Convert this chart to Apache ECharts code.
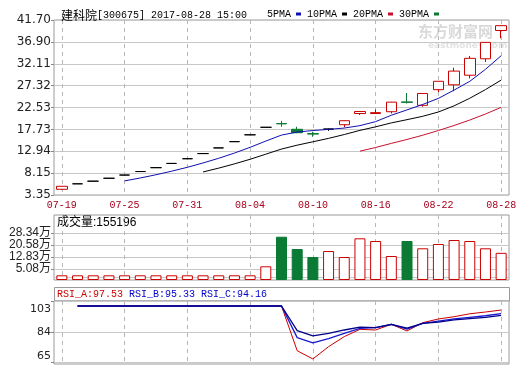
<!DOCTYPE html>
<html><head><meta charset="utf-8">
<script src="https://cdn.jsdelivr.net/npm/echarts@6/dist/echarts.min.js"></script>
<style>html,body{margin:0;padding:0;background:#fff}#c{width:520px;height:365px}</style>
</head><body><div id="c"></div>
<script>
// ---- data ----
const dates = ['07-19','07-20','07-21','07-24','07-25','07-26','07-27','07-28','07-31','08-01','08-02','08-03','08-04','08-07','08-08','08-09','08-10','08-11','08-14','08-15','08-16','08-17','08-18','08-21','08-22','08-23','08-24','08-25','08-28'];
const openP  = [4.60,5.80,6.38,7.02,7.72,8.49,9.34,10.27,11.30,12.43,13.67,15.04,16.54,18.19,19.00,17.75,16.80,17.80,18.75,21.20,21.20,21.60,23.75,23.00,26.43,27.50,29.60,33.20,39.40];
const closeP = [5.26,5.80,6.38,7.02,7.72,8.49,9.34,10.27,11.30,12.43,13.67,15.04,16.54,18.19,18.95,17.00,16.70,17.80,19.63,21.65,21.40,23.70,23.65,25.60,28.27,30.50,33.30,36.80,40.46];
const lowP   = [4.45,5.80,6.38,7.02,7.72,8.49,9.34,10.27,11.30,12.43,13.67,15.04,16.54,18.19,18.30,16.90,16.10,17.40,18.20,20.90,21.10,21.20,23.40,22.70,25.90,26.10,28.90,32.50,37.70];
const highP  = [5.27,5.80,6.38,7.02,7.72,8.49,9.34,10.27,11.30,12.43,13.67,15.04,16.54,18.19,19.60,18.30,17.20,17.90,19.70,21.70,22.10,23.75,25.70,25.70,28.30,31.25,33.80,36.85,40.50];
const ma5  = ['-','-','-','-',6.44,7.08,7.79,8.57,9.42,10.37,11.40,12.54,13.80,15.17,16.48,17.14,17.48,17.73,18.02,18.55,19.43,20.83,22.00,23.19,24.52,26.34,28.26,30.89,33.87];
const ma10 = ['-','-','-','-','-','-','-','-','-',8.40,9.24,10.17,11.18,12.30,13.42,14.27,15.01,15.76,16.60,17.51,18.29,19.15,19.86,20.60,21.54,22.89,24.55,26.45,28.53];
const ma20 = ['-','-','-','-','-','-','-','-','-','-','-','-','-','-','-','-','-','-','-',12.96,13.76,14.66,15.52,16.45,17.48,18.58,19.78,21.10,22.56];
const ma30 = [];
const volume = [1.0,1.0,1.0,1.0,1.0,1.0,1.0,1.0,1.0,1.0,1.0,1.0,1.0,6.82,25.94,18.0,12.83,16.7,12.83,24.9,23.16,13.47,23.16,18.45,21.23,23.81,23.16,18.45,15.52];
const rsiA = ['-',100,100,100,100,100,100,100,100,100,100,100,100,100,100,72.4,67.3,74.9,81.1,85.6,85.2,88.7,84.6,89.7,92.0,93.4,95.2,96.3,97.53];
const rsiB = ['-',100,100,100,100,100,100,100,100,100,100,100,100,100,100,80.5,77.2,79.8,83.1,86.2,86.6,88.7,85.8,89.3,90.7,92.0,93.0,94.0,95.33];
const rsiC = ['-',100,100,100,100,100,100,100,100,100,100,100,100,100,100,84.8,81.5,83.1,85.2,87.0,86.6,88.7,86.4,89.3,90.1,91.4,92.2,93.0,94.16];
const priceTickLabels = ['3.35','8.15','12.94','17.73','22.53','27.32','32.11','36.90','41.70'];
const volTickValues = [0,5.08,12.83,20.58,28.34];
const volTickLabels = ['0','5.08万','12.83万','20.58万','28.34万'];
const rsiTickValues = [65,84,103];
const rsiTickLabels = ['65','84','103'];
const titleName = '建科院';
const titleInfo = '[300675] 2017-08-28 15:00';
const volTitle = '成交量:155196';

// ---- style ----
const RED = '#cc0000', GREEN = '#0b7a34', GRIDC = '#c8c8c8', BORDER = '#9a9a9a';
const L = 54, W = 455;
const candleData = openP.map((o,i)=>[o, closeP[i], lowP[i], highP[i]]);
const volData = volume.map((v,i)=>{
  let up = closeP[i] > openP[i] || (closeP[i] === openP[i] && (i===0 || closeP[i] >= closeP[i-1]));
  return {value:v, itemStyle: up ? {color:'#ffffff', borderColor:RED, borderWidth:1} : {color:GREEN, borderColor:GREEN, borderWidth:1}};
});
function nearestLabel(vals, labs, v){let b=0;for(let i=1;i<vals.length;i++){if(Math.abs(vals[i]-v)<Math.abs(vals[b]-v))b=i;}return labs[b];}
const xBase = (gi, showLabel) => ({
  type:'category', gridIndex:gi, data:dates, boundaryGap:true,
  axisLine:{show:false}, axisTick:{show:false},
  axisLabel:{show:showLabel, interval:3, color:'#a8001c', fontFamily:'Liberation Mono', fontSize:10, margin:5},
  splitLine:{show:true, interval:3, alignWithLabel:true, lineStyle:{color:'#b8b8b8', type:[4,4], width:1}}
});
const option = {
  animation:false,
  backgroundColor:'#ffffff',
  title:{left:56, top:4, text:'{c|'+titleName+'}{a|'+titleInfo+'}',
    textStyle:{fontWeight:'normal', rich:{c:{fontFamily:'Noto Sans CJK SC', fontSize:12, fontWeight:'normal', color:'#000'}, a:{fontFamily:'Liberation Mono', fontSize:10, fontWeight:'normal', color:'#000'}}}},
  legend:{left:262, top:4, itemWidth:5, itemHeight:3, itemGap:6, align:'right', icon:'rect',
    textStyle:{fontFamily:'Liberation Mono', fontSize:10, color:'#000'},
    data:['5PMA','10PMA','20PMA','30PMA']},
  grid:[
    {left:L, width:W, top:20, height:175, show:true, borderColor:BORDER, borderWidth:1},
    {left:L, width:W, top:215, height:65, show:true, borderColor:BORDER, borderWidth:1},
    {left:L, width:W, top:301, height:63, show:true, borderColor:BORDER, borderWidth:1}
  ],
  xAxis:[xBase(0,true), xBase(1,false), xBase(2,false)],
  yAxis:[
    {type:'value', gridIndex:0, min:3.35, max:41.70, interval:4.79375,
      axisLine:{show:false}, axisTick:{show:true, length:3, lineStyle:{color:'#888'}},
      axisLabel:{showMinLabel:true, showMaxLabel:true, margin:3, fontFamily:'DejaVu Sans', fontSize:12, color:'#222',
        formatter:(v)=>{const i=Math.round((v-3.35)/4.79375);return priceTickLabels[i]||'';}},
      splitLine:{show:true, lineStyle:{color:GRIDC}}},
    {type:'value', gridIndex:1, min:-2.03, max:39.97, startValue:-2.03,
      axisLine:{show:false}, axisTick:{show:true, length:3, customValues:volTickValues, lineStyle:{color:'#888'}},
      axisLabel:{customValues:volTickValues, margin:3, fontFamily:'Liberation Sans, Noto Sans CJK SC', fontSize:12, color:'#222',
        formatter:(v)=>{const s=nearestLabel(volTickValues,volTickLabels,v);return v===0?'{z|'+s+'}':s;},
        rich:{z:{padding:[6,0,0,0], fontFamily:'Liberation Sans', fontSize:12, color:'#222'}}},
      splitLine:{show:true, customValues:volTickValues, lineStyle:{color:GRIDC}}},
    {type:'value', gridIndex:2, min:64.2, max:103.1,
      axisLine:{show:false}, axisTick:{show:true, length:3, customValues:rsiTickValues, lineStyle:{color:'#888'}},
      axisLabel:{customValues:rsiTickValues, margin:3, fontFamily:'DejaVu Sans', fontSize:11, color:'#222',
        formatter:(v)=>{const s=nearestLabel(rsiTickValues,rsiTickLabels,v);if(v===103)return '{t|'+s+'}';if(v===65)return '{b|'+s+'}';return s;},
        rich:{t:{padding:[15,0,0,0], fontFamily:'DejaVu Sans', fontSize:11, color:'#222'}, b:{padding:[0,0,14,0], fontFamily:'DejaVu Sans', fontSize:11, color:'#222'}}},
      splitLine:{show:true, customValues:rsiTickValues, lineStyle:{color:GRIDC}}}
  ],
  series:[
    {type:'candlestick', name:'K', xAxisIndex:0, yAxisIndex:0, data:candleData, barWidth:11,
      itemStyle:{color:'#ffffff', color0:GREEN, borderColor:RED, borderColor0:GREEN, borderColorDoji:'#000000', borderWidth:1}},
    {type:'line', name:'5PMA', xAxisIndex:0, yAxisIndex:0, data:ma5, symbol:'none', color:'#1010b0', lineStyle:{width:1, color:'#1010b0'}, z:5},
    {type:'line', name:'10PMA', xAxisIndex:0, yAxisIndex:0, data:ma10, symbol:'none', color:'#000000', lineStyle:{width:1, color:'#000000'}, z:5},
    {type:'line', name:'20PMA', xAxisIndex:0, yAxisIndex:0, data:ma20, symbol:'none', color:'#c8102e', lineStyle:{width:1, color:'#c8102e'}, z:5},
    {type:'line', name:'30PMA', xAxisIndex:0, yAxisIndex:0, data:ma30, symbol:'none', color:GREEN, lineStyle:{width:1, color:GREEN}, z:5},
    {type:'bar', name:'VOL', xAxisIndex:1, yAxisIndex:1, data:volData, barWidth:11},
    {type:'line', name:'RSI_A', xAxisIndex:2, yAxisIndex:2, data:rsiA, symbol:'none', lineStyle:{width:1, color:'#cc0000'}},
    {type:'line', name:'RSI_B', xAxisIndex:2, yAxisIndex:2, data:rsiB, symbol:'none', lineStyle:{width:1.3, color:'#1a1ad0'}},
    {type:'line', name:'RSI_C', xAxisIndex:2, yAxisIndex:2, data:rsiC, symbol:'none', lineStyle:{width:1.3, color:'#00008a'}}
  ],
  graphic:[
    {type:'text', left:418, top:24, z:-1, silent:true, style:{text:'东方财富网', fill:'#d9d9d9', font:'bold 15px "Noto Sans CJK SC"'}},
    {type:'text', left:428, top:41, z:-1, silent:true, style:{text:'eastmoney.com', fill:'#e2e2e2', font:'bold 9px "DejaVu Sans"'}},
    {type:'text', left:57, top:217, style:{text:volTitle, fill:'#000', font:'12px "Liberation Sans", "Noto Sans CJK SC"'}},
    {type:'rect', shape:{x:L+0.5, y:287.5, width:W, height:13.5}, style:{fill:'none', stroke:BORDER, lineWidth:1}},
    {type:'text', left:57, top:289, style:{
      text:'{a|RSI_A:'+rsiA[rsiA.length-1]+'} {b|RSI_B:'+rsiB[rsiB.length-1]+'} {b|RSI_C:'+rsiC[rsiC.length-1]+'}',
      font:'10px "Liberation Mono"',
      rich:{a:{fill:'#cc0000', font:'10px "Liberation Mono"'}, b:{fill:'#0000cc', font:'10px "Liberation Mono"'}}}}
  ]
};
const chart = echarts.init(document.getElementById('c'), null, {renderer:'canvas'});
chart.setOption(option);
</script>
</body></html>
